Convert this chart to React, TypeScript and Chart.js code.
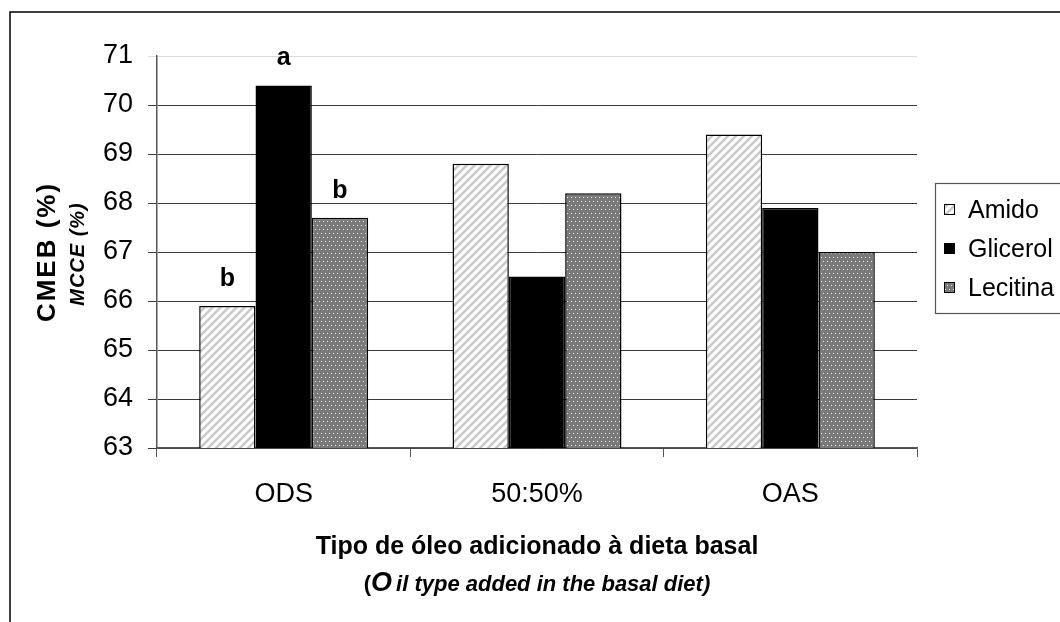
import React, { useEffect, useRef } from 'react';
import { Chart, registerables } from 'chart.js';

Chart.register(...registerables);

const categories = ['ODS', '50:50%', 'OAS'];
const seriesNames = ['Amido', 'Glicerol', 'Lecitina'];
const amido = [65.9, 68.8, 69.4];
const glicerol = [70.4, 66.5, 67.9];
const lecitina = [67.7, 68.2, 67.0];
const amidoLetters = ['b', '', ''];
const glicerolLetters = ['a', '', ''];
const lecitinaLetters = ['b', '', ''];
const yMin = 63;
const yMax = 71;
const yStep = 1;
const yTitle = 'CMEB (%)';
const yTitle2 = 'MCCE (%)';
const xTitle = 'Tipo de óleo adicionado à dieta basal';
const xTitle2Open = '(';
const xTitle2O = 'O';
const xTitle2Rest = 'il type added in the basal diet)';

const FONT = "'Liberation Sans', Arial, Helvetica, sans-serif";

function stripePattern(): CanvasPattern | string {
  const c = document.createElement('canvas');
  c.width = 8;
  c.height = 8;
  const g = c.getContext('2d');
  if (!g) return '#ddd';
  g.fillStyle = '#ffffff';
  g.fillRect(0, 0, 8, 8);
  g.strokeStyle = '#c8c8c8';
  g.lineWidth = 2.4;
  g.beginPath();
  g.moveTo(-2, 10); g.lineTo(10, -2);
  g.moveTo(-6, 6); g.lineTo(6, -6);
  g.moveTo(2, 14); g.lineTo(14, 2);
  g.stroke();
  const p = g.createPattern(c, 'repeat');
  return p || '#ddd';
}

function dotPattern(): CanvasPattern | string {
  const c = document.createElement('canvas');
  c.width = 8;
  c.height = 8;
  const g = c.getContext('2d');
  if (!g) return '#888';
  g.fillStyle = '#7a7a7a';
  g.fillRect(0, 0, 8, 8);
  g.fillStyle = '#ededed';
  const pts = [[1, 1], [5, 1], [3, 5], [7, 5]];
  pts.forEach(([x, y]) => g.fillRect(x, y, 1, 1));
  const p = g.createPattern(c, 'repeat');
  return p || '#888';
}

export default function App() {
  const ref = useRef<HTMLCanvasElement | null>(null);

  useEffect(() => {
    const canvas = ref.current;
    if (!canvas) return;
    const fills = [stripePattern(), '#000000', dotPattern()];
    const values = [amido, glicerol, lecitina];
    const letters = [amidoLetters, glicerolLetters, lecitinaLetters];

    const framePlugin = {
      id: 'frame',
      beforeDraw(chart: any) {
        const ctx = chart.ctx;
        ctx.save();
        ctx.fillStyle = '#ffffff';
        ctx.fillRect(0, 0, chart.width, chart.height);
        ctx.strokeStyle = '#000000';
        ctx.lineWidth = 1.5;
        ctx.strokeRect(10, 12, chart.width + 20, chart.height + 20);
        ctx.restore();
      },
    };

    const textPlugin = {
      id: 'texts',
      afterDatasetsDraw(chart: any) {
        const ctx = chart.ctx;
        const area = chart.chartArea;
        ctx.save();
        // letters above bars
        ctx.fillStyle = '#000';
        ctx.font = `bold 25px ${FONT}`;
        ctx.textAlign = 'center';
        ctx.textBaseline = 'alphabetic';
        letters.forEach((arr, i) => {
          const meta = chart.getDatasetMeta(i);
          meta.data.forEach((bar: any, j: number) => {
            const t = arr[j];
            if (t) ctx.fillText(t, bar.x, bar.y - 20);
          });
        });

        // y titles
        const cy = (area.top + area.bottom) / 2;
        ctx.save();
        ctx.translate(48, cy);
        ctx.rotate(-Math.PI / 2);
        ctx.textAlign = 'center';
        ctx.textBaseline = 'middle';
        ctx.font = `bold 26px ${FONT}`;
        (ctx as any).letterSpacing = '2px';
        ctx.fillText(yTitle, 0, 0);
        ctx.restore();
        ctx.save();
        ctx.translate(78, cy + 2);
        ctx.rotate(-Math.PI / 2);
        ctx.textAlign = 'center';
        ctx.textBaseline = 'middle';
        ctx.font = `italic bold 20px ${FONT}`;
        (ctx as any).letterSpacing = '1px';
        ctx.fillText(yTitle2, 0, 0);
        ctx.restore();

        // x titles
        const cx = (area.left + area.right) / 2;
        ctx.textAlign = 'center';
        ctx.textBaseline = 'middle';
        ctx.font = `bold 25px ${FONT}`;
        ctx.fillText(xTitle, cx, 547);
        const fSmall = `italic bold 22px ${FONT}`;
        const fBig = `italic bold 27px ${FONT}`;
        ctx.font = `bold 22px ${FONT}`;
        const w1 = ctx.measureText(xTitle2Open).width;
        ctx.font = fSmall;
        const w3 = ctx.measureText(xTitle2Rest).width;
        ctx.font = fBig;
        const w2 = ctx.measureText(xTitle2O).width + 4;
        let x = cx - (w1 + w2 + w3) / 2;
        ctx.textAlign = 'left';
        ctx.textBaseline = 'alphabetic';
        const base = 591;
        ctx.font = `bold 22px ${FONT}`;
        ctx.fillText(xTitle2Open, x, base);
        x += w1;
        ctx.font = fBig;
        ctx.fillText(xTitle2O, x, base);
        x += w2;
        ctx.font = fSmall;
        ctx.fillText(xTitle2Rest, x, base);

        // legend
        const lx = 935.5;
        const ly = 183.5;
        ctx.strokeStyle = '#555';
        ctx.lineWidth = 1.2;
        ctx.strokeRect(lx, ly, 200, 130);
        ctx.font = `25px ${FONT}`;
        ctx.textBaseline = 'middle';
        ctx.textAlign = 'left';
        seriesNames.forEach((name, k) => {
          const yy = 210 + k * 39;
          ctx.fillStyle = fills[k] as any;
          ctx.fillRect(944, yy - 6, 11, 11);
          ctx.strokeStyle = '#000';
          ctx.lineWidth = 1;
          ctx.strokeRect(944.5, yy - 5.5, 10, 10);
          ctx.fillStyle = '#000';
          ctx.fillText(name, 968, yy + 1);
        });
        ctx.restore();
      },
    };

    const chart = new Chart(canvas, {
      type: 'bar',
      data: {
        labels: categories,
        datasets: seriesNames.map((name, i) => ({
          label: name,
          data: values[i],
          backgroundColor: fills[i] as any,
          borderColor: '#000000',
          borderWidth: 1.5,
          categoryPercentage: 0.667,
          barPercentage: 1,
        })),
      },
      options: {
        responsive: false,
        animation: false,
        devicePixelRatio: 1,
        layout: { padding: { top: 56, right: 143, left: 0, bottom: 0 } },
        plugins: {
          legend: { display: false },
          tooltip: { enabled: false },
          title: { display: false },
        },
        scales: {
          x: {
            afterFit: (scale: any) => { scale.height = 174; },
            grid: {
              drawOnChartArea: false,
              drawTicks: true,
              tickLength: 9,
              offset: true,
              color: '#555',
            },
            border: { color: '#555', width: 1.5 },
            ticks: {
              color: '#000',
              font: { size: 27, family: FONT },
              padding: 21,
              maxRotation: 0,
            },
          },
          y: {
            min: yMin,
            max: yMax,
            afterFit: (scale: any) => { scale.width = 157; },
            grid: {
              color: (c: any) => (c.tick && c.tick.value === yMax ? '#dcdcdc' : '#3a3a3a'),
              tickLength: 9,
              drawTicks: true,
              lineWidth: 1,
            },
            border: { color: '#555', width: 1.5 },
            ticks: {
              stepSize: yStep,
              color: '#000',
              font: { size: 27, family: FONT },
              padding: 15,
            },
          },
        },
      },
      plugins: [framePlugin, textPlugin],
    });
    return () => chart.destroy();
  }, []);

  return (
    <div style={{ position: 'absolute', left: 0, top: 0, width: 1060, height: 622 }}>
      <canvas ref={ref} width={1060} height={622} style={{ width: 1060, height: 622, display: 'block' }} />
    </div>
  );
}
